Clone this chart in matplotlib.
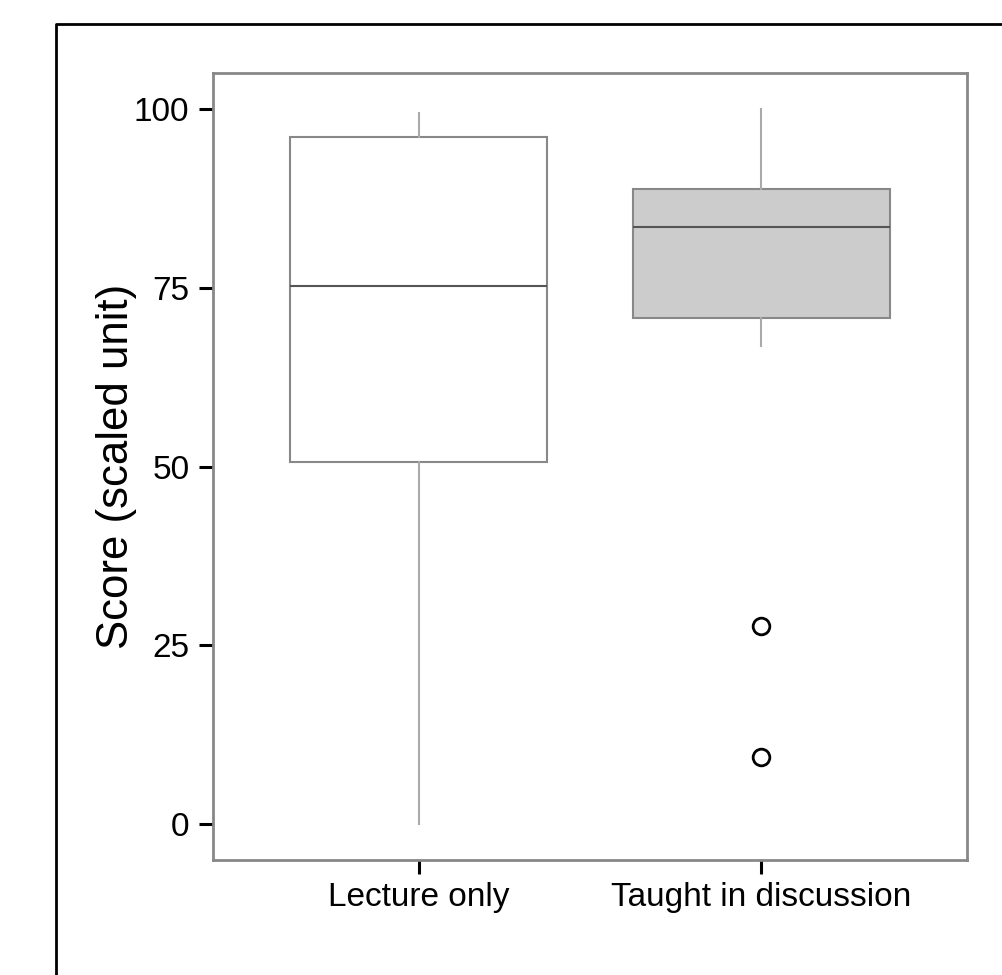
import matplotlib.pyplot as plt
from matplotlib.lines import Line2D

plt.rcParams['font.family'] = ['Liberation Sans', 'DejaVu Sans']

# summary values
groups = ['Lecture only', 'Taught in discussion']
q1 = [50.6, 70.8]
med = [75.3, 83.5]
q3 = [96.0, 88.8]
whislo = [0.0, 66.8]
whishi = [99.4, 100.0]
fliers = [[], [27.7, 9.4]]
fills = ['white', '#cccccc']

fig = plt.figure(figsize=(10.03, 9.75), dpi=100)
ax = fig.add_axes([0.2124, 0.1179, 0.7517, 0.8072])

stats = []
for i in range(len(groups)):
    stats.append(dict(label=groups[i], q1=q1[i], med=med[i], q3=q3[i],
                      whislo=whislo[i], whishi=whishi[i], fliers=fliers[i]))

bp = ax.bxp(stats, positions=[1, 2], widths=0.75, patch_artist=True,
            showcaps=False,
            boxprops=dict(edgecolor='#888888', linewidth=1.5),
            medianprops=dict(color='#555555', linewidth=1.5),
            whiskerprops=dict(color='#aaaaaa', linewidth=1.5),
            flierprops=dict(marker='o', markersize=12, markerfacecolor='none',
                            markeredgecolor='black', markeredgewidth=2))
for patch, c in zip(bp['boxes'], fills):
    patch.set_facecolor(c)

ax.set_xlim(0.4, 2.6)
ax.set_ylim(-5, 105)
ax.set_yticks([0, 25, 50, 75, 100])
ax.set_ylabel('Score (scaled unit)', fontsize=31.5, labelpad=-2)
ax.tick_params(axis='both', direction='out', length=10, width=2.2,
               color='black', labelsize=24, pad=7)
ax.tick_params(axis='x', pad=6)
for s in ax.spines.values():
    s.set_color('#888888')
    s.set_linewidth(2)

# outer frame (left and top edges visible)
fig.add_artist(Line2D([56 / 1003, 56 / 1003, 1.0], [0.0, 1 - 24 / 975, 1 - 24 / 975],
                      color='black', linewidth=2, transform=fig.transFigure))

fig.savefig('out.png', dpi=100)
